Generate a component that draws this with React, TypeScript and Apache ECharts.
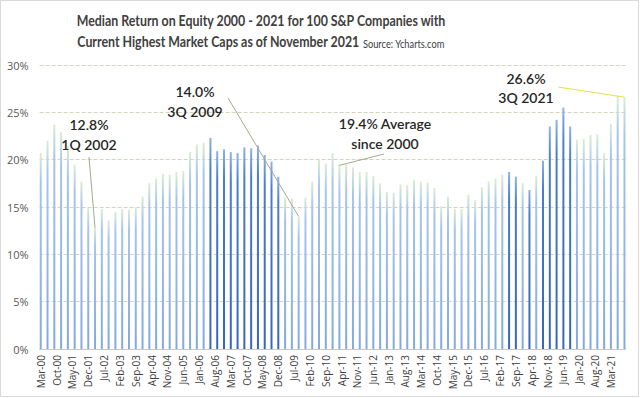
import React, { useEffect, useRef } from 'react';
import * as echarts from 'echarts';

// ---- Data ----
const MONTH_NAMES = ['Jan', 'Feb', 'Mar', 'Apr', 'May', 'Jun', 'Jul', 'Aug', 'Sep', 'Oct', 'Nov', 'Dec'];
const START_YEAR = 2000;
const START_MONTH = 2; // March 2000 = 1Q 2000

// Median ROE (%) per quarter, 1Q 2000 .. 3Q 2021
const roeQuarterly = [
  20.7, 22.0, 23.7, 22.9, 21.5, 19.5, 17.7, 14.9, 12.8, 14.8,
  13.6, 14.5, 14.8, 14.7, 15.0, 16.1, 17.5, 18.0, 18.5, 18.4,
  18.7, 18.8, 20.8, 21.6, 21.8, 22.3, 20.9, 21.1, 20.8, 20.7,
  21.3, 21.2, 21.5, 20.5, 19.8, 18.2, 16.0, 15.9, 14.0, 16.0,
  17.7, 20.0, 19.6, 20.7, 19.5, 19.5, 19.2, 18.7, 18.7, 18.3,
  17.5, 16.6, 16.5, 17.4, 17.3, 17.9, 17.7, 17.6, 17.0, 15.1,
  16.1, 14.8, 14.8, 16.3, 15.7, 17.1, 17.7, 18.0, 18.4, 18.7,
  18.2, 17.5, 16.8, 18.3, 19.9, 23.5, 24.2, 25.5, 23.5, 22.1,
  22.2, 22.6, 22.7, 20.7, 23.8, 26.8, 26.6,
];

const Y_MIN = 0;
const Y_MAX = 30;
const Y_STEP = 5;

const TITLE_LINE1 = 'Median Return on Equity 2000 - 2021 for 100 S&P Companies with';
const TITLE_LINE2 = 'Current Highest Market Caps as of November 2021';
const SOURCE_TEXT = 'Source: Ycharts.com';

const annoLow = { lines: ['12.8%', '1Q 2002'], quarter: 8, value: 12.8 };
const annoGfc = { lines: ['14.0%', '3Q 2009'], quarter: 38, value: 14.0 };
const annoAvg = { lines: ['19.4% Average', 'since 2000'], quarter: 44, value: 19.4 };
const annoHigh = { lines: ['26.6%', '3Q 2021'], quarter: 86, value: 26.6 };

// quarters drawn in the darker blue shade
const darkQuarters = [25, 26, 27, 28, 29, 30, 31, 32, 33, 34, 35, 69, 70, 72, 74, 75, 76, 77, 78];

// ---- Derived ----
const monthCount = (roeQuarterly.length - 1) * 3 + 1;
const categories = Array.from({ length: monthCount }, (_, k) => {
  const t = START_MONTH + k;
  const m = t % 12;
  const y = START_YEAR + Math.floor(t / 12);
  return `${MONTH_NAMES[m]}-${String(y % 100).padStart(2, '0')}`;
});

const lightFill = {
  type: 'linear', x: 0, y: 0, x2: 0, y2: 1,
  colorStops: [
    { offset: 0, color: '#dceecf' },
    { offset: 0.15, color: '#a6c5ee' },
    { offset: 1, color: '#82a9e0' },
  ],
};
const darkFill = {
  type: 'linear', x: 0, y: 0, x2: 0, y2: 1,
  colorStops: [
    { offset: 0, color: '#8fb4e6' },
    { offset: 0.15, color: '#4a7dcb' },
    { offset: 1, color: '#3766ba' },
  ],
};

const darkSet = new Set(darkQuarters);
const seriesData = categories.map((_, k) => {
  if (k % 3 !== 0) return null;
  const q = k / 3;
  return { value: roeQuarterly[q], itemStyle: { color: darkSet.has(q) ? darkFill : lightFill } };
});

function measure(font: string, text: string): number {
  const c = document.createElement('canvas').getContext('2d');
  if (!c) return text.length * 7;
  c.font = font;
  return c.measureText(text).width;
}

export default function App() {
  const ref = useRef<HTMLDivElement>(null);

  useEffect(() => {
    if (!ref.current) return;
    const chart = echarts.init(ref.current, undefined, { renderer: 'svg' });

    chart.setOption({
      animation: false,
      backgroundColor: '#ffffff',
      grid: {
        left: 39.6,
        right: 14.4,
        top: 65,
        bottom: 49,
        containLabel: false,
        outerBoundsMode: 'none',
      },
      xAxis: {
        type: 'category',
        data: categories,
        boundaryGap: true,
        axisLine: { show: true, lineStyle: { color: '#c8c8c8', width: 1 } },
        axisTick: { show: false },
        axisLabel: {
          interval: 6,
          rotate: 90,
          margin: 6,
          fontFamily: 'Open Sans',
          fontSize: 10,
          color: '#404040',
        },
        splitLine: { show: false },
      },
      yAxis: {
        type: 'value',
        min: Y_MIN,
        max: Y_MAX,
        interval: Y_STEP,
        axisLine: { show: false },
        axisTick: { show: false },
        axisLabel: {
          formatter: '{value}%',
          margin: 11,
          fontFamily: 'Open Sans',
          fontSize: 11,
          color: '#595959',
        },
        splitLine: { show: true, lineStyle: { color: '#d4d4bc', type: [4, 2], width: 1 } },
      },
      series: [
        {
          type: 'bar',
          data: seriesData,
          barWidth: 2,
          barGap: '0%',
        },
      ],
    });

    const px = (q: number, v: number) =>
      chart.convertToPixel({ xAxisIndex: 0, yAxisIndex: 0 }, [q * 3, v]) as number[];

    // title sizing (narrow face like the original)
    const titleFont = 'bold 16px Lato';
    const srcFont = '12px Lato';
    const targetW = 370;
    const w1 = measure(titleFont, TITLE_LINE1);
    const sx = w1 > 0 ? targetW / w1 : 1;
    const w2 = measure(titleFont, TITLE_LINE2) * sx;
    const ws = measure(srcFont, SOURCE_TEXT) * sx;
    const gap = 3;
    const titleCx = 261;
    const line2Start = titleCx - (w2 + gap + ws) / 2;

    const annoFont = '600 14px Lato';
    const annoColor = '#262626';
    const leaderGrey = '#a8a890';
    const leaderYellow = '#e2e24e';

    const textEl = (text: string, x: number, y: number) => ({
      type: 'text',
      x,
      y,
      z: 10,
      style: {
        text,
        x: 0,
        y: 0,
        textAlign: 'center',
        textVerticalAlign: 'middle',
        font: annoFont,
        fill: annoColor,
      },
    });

    const lineEl = (x1: number, y1: number, end: number[], color: string) => ({
      type: 'line',
      z: 9,
      shape: { x1, y1, x2: end[0], y2: end[1] },
      style: { stroke: color, lineWidth: 1 },
    });

    const pLow = px(annoLow.quarter, annoLow.value);
    const pGfc = px(annoGfc.quarter, annoGfc.value);
    const pAvg = px(annoAvg.quarter, annoAvg.value);
    const pHigh = px(annoHigh.quarter, annoHigh.value);

    chart.setOption({
      graphic: [
        {
          type: 'rect',
          z: 0,
          shape: { x: 0.5, y: 0.5, width: 638, height: 396 },
          style: { fill: 'none', stroke: '#dadada', lineWidth: 1 },
        },
        {
          type: 'text',
          x: titleCx,
          y: 20,
          scaleX: sx,
          style: {
            text: TITLE_LINE1,
            x: 0,
            y: 0,
            textAlign: 'center',
            textVerticalAlign: 'middle',
            font: titleFont,
            fill: '#404040',
          },
        },
        {
          type: 'text',
          x: line2Start,
          y: 41,
          scaleX: sx,
          style: {
            text: TITLE_LINE2,
            x: 0,
            y: 0,
            textAlign: 'left',
            textVerticalAlign: 'middle',
            font: titleFont,
            fill: '#404040',
          },
        },
        {
          type: 'text',
          x: line2Start + w2 + gap,
          y: 42.5,
          scaleX: sx,
          style: {
            text: SOURCE_TEXT,
            x: 0,
            y: 0,
            textAlign: 'left',
            textVerticalAlign: 'middle',
            font: srcFont,
            fill: '#404040',
          },
        },
        lineEl(89, 157, pLow, leaderGrey),
        lineEl(228, 98, pGfc, leaderGrey),
        lineEl(384, 154, pAvg, leaderGrey),
        lineEl(558, 87, pHigh, leaderYellow),
        textEl(annoLow.lines[0], 89, 124),
        textEl(annoLow.lines[1], 89, 144),
        textEl(annoGfc.lines[0], 195, 91),
        textEl(annoGfc.lines[1], 195, 111),
        textEl(annoAvg.lines[0], 385, 123),
        textEl(annoAvg.lines[1], 385, 143),
        textEl(annoHigh.lines[0], 526, 78),
        textEl(annoHigh.lines[1], 526, 97),
      ],
    });

    return () => {
      chart.dispose();
    };
  }, []);

  return (
    <div
      ref={ref}
      style={{ position: 'fixed', left: 0, top: 0, width: 640, height: 398, background: '#fff' }}
    />
  );
}
